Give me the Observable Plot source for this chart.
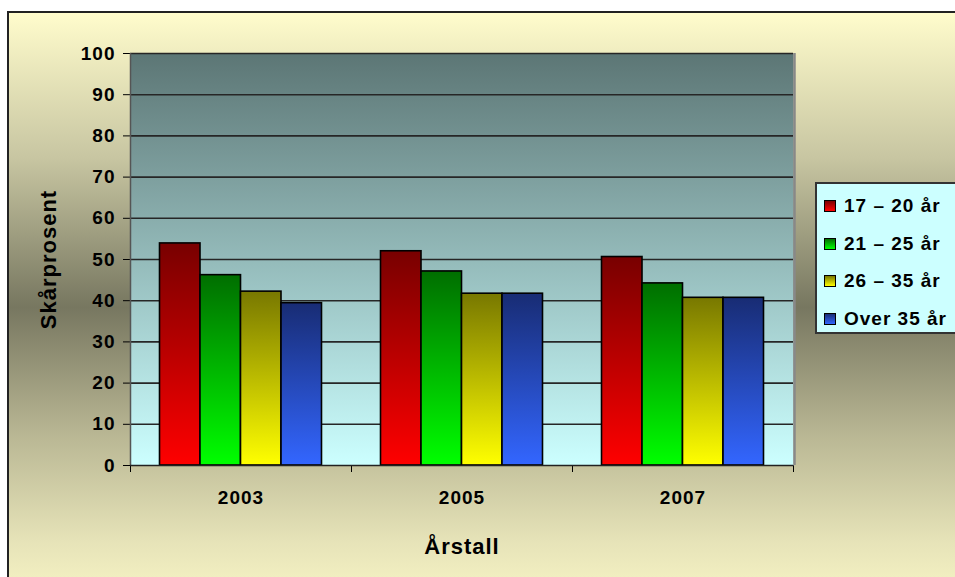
<!DOCTYPE html>
<html>
<head>
<meta charset="utf-8">
<script src="https://cdn.jsdelivr.net/npm/d3@7"></script>
<script src="https://cdn.jsdelivr.net/npm/@observablehq/plot@0.6"></script>
<style>
  html, body { margin: 0; padding: 0; background: #fff; }
  #wrap { position: relative; width: 955px; height: 577px; overflow: hidden; background: #fff;
          font-family: Arial, "Liberation Sans", sans-serif; }
  #bg { position: absolute; left: 7px; top: 11px; width: 990px; height: 600px;
        border-left: 2px solid #222; border-top: 2px solid #222;
        background: linear-gradient(to bottom, #fffccc 0%, #c8c6a2 24%, #777760 49%, #b8b693 70%, #e6e3b8 88%, #fcf9c8 100%); }
  #chart { position: absolute; left: 0; top: 0; }
  #legend { position: absolute; left: 815px; top: 182px; width: 160px; height: 152px;
            background: #ccffff; border: 2px solid #333; box-sizing: border-box; }
  .item { position: absolute; left: 7px; height: 22px; display: flex; align-items: center;
          font-weight: bold; font-size: 19px; letter-spacing: 1px; color: #000; white-space: nowrap; }
  .sw { width: 10px; height: 10px; border: 1.5px solid #000; margin-right: 8px; flex: none; }
</style>
</head>
<body>
<div id="wrap">
  <div id="bg"></div>
  <div id="chart"></div>
  <div id="legend"></div>
</div>
<script>
const years = ["2003", "2005", "2007"];
const groups = ["17 – 20 år", "21 – 25 år", "26 – 35 år", "Over 35 år"];
const s1720 = [53.9, 52.0, 50.6];
const s2125 = [46.2, 47.1, 44.2];
const s2635 = [42.2, 41.7, 40.7];
const sOver35 = [39.4, 41.7, 40.7];
const yTicks = [0, 10, 20, 30, 40, 50, 60, 70, 80, 90, 100];
const gridValues = [10, 20, 30, 40, 50, 60, 70, 80, 90, 100];

const series = [s1720, s2125, s2635, sOver35];
const gradTop = ["#780000", "#006e00", "#787800", "#182c74"];
const gradBottom = ["#ff0000", "#00ff00", "#ffff00", "#3366ff"];
const gradIds = groups.map((g, i) => "barGrad" + i);

const rows = years.flatMap((yr, i) => groups.map((g, j) => ({year: yr, yi: i, group: g, gi: j, value: series[j][i]})));

// layout within each year band (fractions of a band)
const outer = 0.1335, bw = (1 - 2 * outer) / groups.length;

const font = 'Arial, "Liberation Sans", sans-serif';

const chart = Plot.plot({
  width: 955,
  height: 577,
  marginTop: 53,
  marginBottom: 112,
  marginLeft: 130,
  marginRight: 162,
  style: {background: "transparent", fontFamily: font, fontWeight: "bold", fontSize: "19px", color: "#000", letterSpacing: "1px"},
  x: {type: "linear", domain: [0, years.length], ticks: [0, 1, 2, 3], tickFormat: () => "", tickSize: 7,
      label: "Årstall", labelAnchor: "center", labelOffset: 88, labelArrow: false},
  y: {domain: [0, 100], ticks: yTicks, tickSize: 7, tickPadding: 8,
      label: "Skårprosent", labelAnchor: "center", labelOffset: 90, labelArrow: false},
  color: {domain: groups, range: gradIds.map(id => `url(#${id})`)},
  marks: [
    Plot.frame({fill: "url(#plotBg)", stroke: null}),
    Plot.ruleY(gridValues, {stroke: "#262626", strokeWidth: 1.6}),
    Plot.rect(rows, {
      x1: d => d.yi + outer + d.gi * bw,
      x2: d => d.yi + outer + (d.gi + 1) * bw,
      y1: 0,
      y2: "value",
      fill: "group",
      stroke: "#000",
      strokeWidth: 1.6
    }),
    Plot.ruleX([years.length], {stroke: "#888", strokeWidth: 2.5, dx: 1}),
    Plot.ruleX([0], {stroke: "#555", strokeWidth: 1.5}),
    Plot.ruleY([0], {stroke: "#222", strokeWidth: 1.5}),
    Plot.text(years, {x: (d, i) => i + 0.5, y: 0, dy: 32, text: d => d, fontSize: 19, fontWeight: "bold", fill: "#000"})
  ]
});

// larger axis titles
d3.select(chart).selectAll('[aria-label="x-axis label"], [aria-label="y-axis label"]')
  .attr("font-size", 22).style("font-size", "22px");

// gradients
const defs = d3.select(chart).insert("defs", ":first-child");
const pbg = defs.append("linearGradient").attr("id", "plotBg").attr("x1", 0).attr("y1", 0).attr("x2", 0).attr("y2", 1);
pbg.append("stop").attr("offset", "0%").attr("stop-color", "#5c7675");
pbg.append("stop").attr("offset", "100%").attr("stop-color", "#ccffff");
gradIds.forEach((id, i) => {
  const g = defs.append("linearGradient").attr("id", id).attr("x1", 0).attr("y1", 0).attr("x2", 0).attr("y2", 1);
  g.append("stop").attr("offset", "0%").attr("stop-color", gradTop[i]);
  g.append("stop").attr("offset", "100%").attr("stop-color", gradBottom[i]);
});
document.getElementById("chart").appendChild(chart);

// legend
const legend = document.getElementById("legend");
groups.forEach((g, i) => {
  const item = document.createElement("div");
  item.className = "item";
  item.style.top = (11 + i * 37.5) + "px";
  const sw = document.createElement("span");
  sw.className = "sw";
  sw.style.background = `linear-gradient(to bottom, ${gradTop[i]}, ${gradBottom[i]})`;
  item.appendChild(sw);
  item.appendChild(document.createTextNode(g));
  legend.appendChild(item);
});
</script>
</body>
</html>
